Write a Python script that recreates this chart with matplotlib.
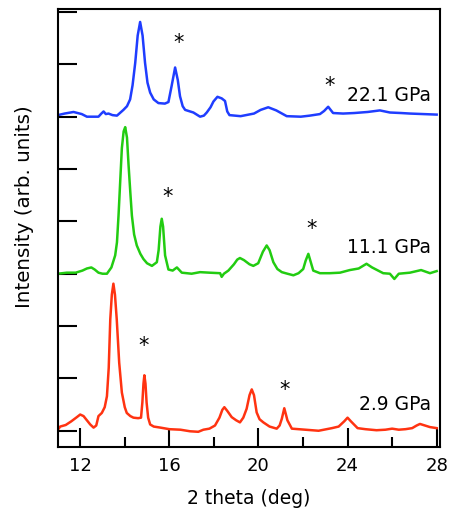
import matplotlib
matplotlib.use("Agg")
import matplotlib.pyplot as plt
from matplotlib.ticker import MultipleLocator, NullFormatter

plt.rcParams['font.family'] = ['DejaVu Sans']

# ---- data (2theta, intensity relative to trace baseline) ----
red_points = [
    (11.0, 0.02), (11.1, 0.08), (11.35, 0.11), (11.6, 0.18), (11.85, 0.26),
    (12.0, 0.31), (12.15, 0.28), (12.3, 0.2), (12.45, 0.12), (12.6, 0.06),
    (12.72, 0.1), (12.82, 0.28), (12.97, 0.34), (13.1, 0.45), (13.2, 0.66),
    (13.28, 1.2), (13.35, 2.13), (13.42, 2.6), (13.49, 2.81), (13.56, 2.6),
    (13.64, 2.13), (13.75, 1.3), (13.87, 0.73), (14.0, 0.45), (14.09, 0.34),
    (14.25, 0.28), (14.39, 0.25), (14.6, 0.24), (14.73, 0.25), (14.79, 0.54),
    (14.84, 0.9), (14.88, 1.06), (14.93, 0.9), (14.98, 0.54), (15.05, 0.25),
    (15.14, 0.12), (15.3, 0.08), (15.6, 0.06), (16.0, 0.03), (16.5, 0.02),
    (16.93, -0.01), (17.3, -0.02), (17.53, 0.02), (17.8, 0.04), (18.05, 0.1),
    (18.25, 0.25), (18.38, 0.4), (18.47, 0.45), (18.6, 0.38), (18.8, 0.26),
    (19.0, 0.2), (19.17, 0.16), (19.32, 0.25), (19.47, 0.42), (19.6, 0.68),
    (19.7, 0.79), (19.8, 0.68), (19.92, 0.35), (20.05, 0.22), (20.22, 0.16),
    (20.5, 0.08), (20.82, 0.04), (20.95, 0.1), (21.05, 0.23), (21.16, 0.43),
    (21.24, 0.3), (21.3, 0.2), (21.5, 0.04), (21.8, 0.03), (22.1, 0.02),
    (22.7, 0.0), (23.3, 0.05), (23.6, 0.08), (23.85, 0.18), (24.0, 0.25),
    (24.15, 0.18), (24.45, 0.05), (24.8, 0.03), (25.3, 0.01), (25.7, 0.02),
    (26.0, 0.04), (26.3, 0.02), (26.6, 0.03), (26.9, 0.05), (27.1, 0.1),
    (27.25, 0.13), (27.4, 0.11), (27.7, 0.07), (28.0, 0.05),
]

green_points = [
    (11.0, 0.0), (11.4, 0.02), (11.8, 0.02), (12.1, 0.06), (12.3, 0.1),
    (12.5, 0.12), (12.65, 0.08), (12.82, 0.02), (13.0, 0.0), (13.2, 0.0),
    (13.4, 0.12), (13.57, 0.35), (13.65, 0.6), (13.72, 1.11), (13.8, 1.8),
    (13.87, 2.4), (13.95, 2.72), (14.02, 2.8), (14.1, 2.6), (14.17, 2.08),
    (14.25, 1.55), (14.32, 1.11), (14.42, 0.75), (14.54, 0.54), (14.7, 0.38),
    (14.84, 0.28), (15.0, 0.2), (15.22, 0.15), (15.44, 0.22), (15.52, 0.45),
    (15.6, 0.9), (15.66, 1.05), (15.72, 0.9), (15.81, 0.35), (15.96, 0.08),
    (16.15, 0.06), (16.34, 0.12), (16.56, 0.02), (17.0, 0.0), (17.38, 0.03),
    (17.8, 0.02), (18.28, 0.01), (18.35, -0.06), (18.45, 0.0), (18.65, 0.06),
    (18.9, 0.18), (19.05, 0.27), (19.17, 0.3), (19.35, 0.26), (19.6, 0.18),
    (19.77, 0.15), (19.99, 0.2), (20.2, 0.42), (20.37, 0.54), (20.5, 0.45),
    (20.67, 0.22), (20.85, 0.09), (21.05, 0.03), (21.3, 0.0), (21.57, -0.03),
    (21.8, 0.01), (22.01, 0.09), (22.12, 0.25), (22.24, 0.38), (22.35, 0.22),
    (22.46, 0.06), (22.76, 0.01), (23.2, 0.01), (23.66, 0.02), (24.1, 0.07),
    (24.5, 0.1), (24.85, 0.19), (25.1, 0.12), (25.6, 0.01), (25.9, 0.0),
    (26.1, -0.1), (26.3, 0.0), (26.8, 0.02), (27.3, 0.07), (27.7, 0.01),
    (28.0, 0.05),
]

blue_points = [
    (11.0, 0.03), (11.3, 0.06), (11.7, 0.09), (12.07, 0.05), (12.3, 0.0),
    (12.82, 0.0), (12.95, 0.06), (13.05, 0.1), (13.15, 0.05), (13.27, 0.06),
    (13.45, 0.03), (13.65, 0.02), (13.94, 0.13), (14.1, 0.2), (14.24, 0.33),
    (14.35, 0.6), (14.47, 1.03), (14.58, 1.55), (14.69, 1.81), (14.8, 1.55),
    (14.91, 1.03), (15.02, 0.65), (15.14, 0.46), (15.3, 0.33), (15.51, 0.26),
    (15.8, 0.25), (15.96, 0.28), (16.1, 0.58), (16.26, 0.94), (16.38, 0.7),
    (16.48, 0.39), (16.6, 0.2), (16.71, 0.13), (17.08, 0.08), (17.38, 0.0),
    (17.55, 0.02), (17.68, 0.08), (17.85, 0.18), (17.98, 0.29), (18.16, 0.38),
    (18.35, 0.35), (18.5, 0.3), (18.6, 0.1), (18.7, 0.03), (19.2, 0.01),
    (19.8, 0.06), (20.1, 0.13), (20.44, 0.18), (20.8, 0.12), (21.27, 0.01),
    (21.9, 0.0), (22.3, 0.02), (22.76, 0.05), (22.95, 0.11), (23.13, 0.19),
    (23.35, 0.07), (23.8, 0.06), (24.3, 0.07), (24.9, 0.09), (25.45, 0.12),
    (25.9, 0.08), (26.4, 0.07), (26.8, 0.06), (27.4, 0.05), (28.0, 0.04),
]

pressures = ["2.9 GPa", "11.1 GPa", "22.1 GPa"]
offsets = [0, 3, 6]
colors = ["#ff3311", "#22cc11", "#1f3dff"]
label_y = [0.5, 3.5, 6.4]
# impurity-peak asterisks (2theta, height in plot units)
star_x = [[14.85, 21.18], [15.9, 22.39], [16.42, 23.18]]
star_y = [[1.62, 0.78], [4.47, 3.85], [7.40, 6.58]]

xticks_major = [12, 16, 20, 24, 28]

fig = plt.figure(figsize=(4.49, 5.13), dpi=100)
ax = fig.add_axes([0.129, 0.1287, 0.851, 0.853])

for pts, off, col, lab, ly, sx, sy in zip(
        [red_points, green_points, blue_points], offsets, colors,
        pressures, label_y, star_x, star_y):
    xs = [p[0] for p in pts]
    ys = [p[1] + off for p in pts]
    ax.plot(xs, ys, color=col, lw=1.8, solid_joinstyle='round')
    ax.text(27.75, ly, lab, ha='right', va='center', fontsize=13.5)
    for a, b in zip(sx, sy):
        ax.text(a, b, '*', ha='center', va='center', fontsize=15)

ax.set_xlim(11, 28.15)
ax.set_ylim(-0.31, 8.05)
ax.set_xticks(xticks_major)
ax.xaxis.set_minor_locator(MultipleLocator(2))
ax.set_yticks(range(0, 9))
ax.yaxis.set_major_formatter(NullFormatter())
ax.tick_params(axis='x', which='major', direction='in', length=14, width=1.5,
               labelsize=13, pad=7, top=False)
ax.tick_params(axis='x', which='minor', direction='in', length=7, width=1.5,
               top=False)
ax.tick_params(axis='y', which='major', direction='in', length=14, width=1.5,
               right=False)
for s in ax.spines.values():
    s.set_linewidth(1.5)

ax.set_xlabel('2 theta (deg)', fontsize=13.5, labelpad=10)
ax.set_ylabel('Intensity (arb. units)', fontsize=14.3)
ax.yaxis.set_label_coords(-0.062, 0.55)

fig.savefig('out.png', dpi=100)
